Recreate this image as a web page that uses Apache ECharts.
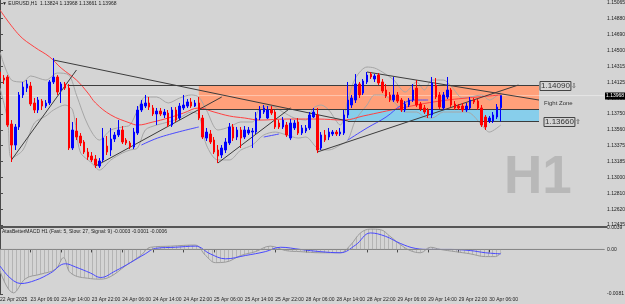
<!DOCTYPE html>
<html>
<head>
<meta charset="utf-8">
<script src="https://cdn.jsdelivr.net/npm/echarts@6/dist/echarts.min.js"></script>
<style>
html, body { margin: 0; padding: 0; background: #d4d4d4; }
#chart { width: 625px; height: 304px; }
</style>
</head>
<body>
<div id="chart"></div>
<script>
// Time axis labels (one every 8 hourly bars)
var xLabels = ['22 Apr 2025', '23 Apr 06:00', '23 Apr 14:00', '23 Apr 22:00', '24 Apr 06:00',
    '24 Apr 14:00', '24 Apr 22:00', '25 Apr 06:00', '25 Apr 14:00', '25 Apr 22:00',
    '28 Apr 06:00', '28 Apr 14:00', '28 Apr 22:00', '29 Apr 06:00', '29 Apr 14:00',
    '29 Apr 22:00', '30 Apr 06:00'];

// Price scale labels
var priceTicks = [1.15065, 1.14880, 1.14690, 1.14500, 1.14315, 1.14125, 1.13935, 1.13750,
    1.13560, 1.13375, 1.13185, 1.13000, 1.12810, 1.12620, 1.12435];
var macdTicks = [0.0039, 0, -0.0081];

// EURUSD H1 candles: [open, close, low, high]
var candles = [
    [1.14247, 1.14176, 1.14152, 1.14294], [1.14176, 1.14152, 1.14105, 1.14211],
    [1.14188, 1.13619, 1.13596, 1.14211], [1.13631, 1.13382, 1.13181, 1.13678],
    [1.13382, 1.13596, 1.13323, 1.13631], [1.13596, 1.13975, 1.13560, 1.14010],
    [1.13975, 1.14069, 1.13939, 1.14129], [1.14057, 1.14105, 1.14010, 1.14152],
    [1.14081, 1.13868, 1.13844, 1.14129], [1.13880, 1.13797, 1.13761, 1.13939],
    [1.13797, 1.13915, 1.13761, 1.13951], [1.13903, 1.13844, 1.13797, 1.13927],
    [1.13844, 1.13880, 1.13821, 1.13915], [1.13880, 1.14129, 1.13856, 1.14152],
    [1.14129, 1.14188, 1.14105, 1.14413], [1.14188, 1.14010, 1.13975, 1.14211],
    [1.14034, 1.14105, 1.13880, 1.14129], [1.14105, 1.14057, 1.14034, 1.14129],
    [1.14057, 1.13347, 1.13323, 1.14105], [1.13347, 1.13560, 1.13323, 1.13655],
    [1.13548, 1.13477, 1.13441, 1.13702], [1.13489, 1.13406, 1.13370, 1.13524],
    [1.13418, 1.13299, 1.13276, 1.13441], [1.13299, 1.13240, 1.13205, 1.13347],
    [1.13252, 1.13205, 1.13181, 1.13299], [1.13216, 1.13145, 1.13110, 1.13264],
    [1.13133, 1.13193, 1.13110, 1.13228], [1.13205, 1.13465, 1.13181, 1.13584],
    [1.13370, 1.13299, 1.13264, 1.13489], [1.13323, 1.13453, 1.13252, 1.13584],
    [1.13453, 1.13501, 1.13418, 1.13536], [1.13501, 1.13560, 1.13477, 1.13678],
    [1.13560, 1.13418, 1.13394, 1.13607], [1.13441, 1.13406, 1.13382, 1.13465],
    [1.13406, 1.13359, 1.13335, 1.13430], [1.13359, 1.13536, 1.13335, 1.13584],
    [1.13524, 1.13797, 1.13501, 1.13844], [1.13797, 1.13868, 1.13773, 1.13915],
    [1.13844, 1.13880, 1.13821, 1.13975], [1.13880, 1.13832, 1.13797, 1.13951],
    [1.13821, 1.13750, 1.13726, 1.13856], [1.13750, 1.13785, 1.13619, 1.13821],
    [1.13785, 1.13750, 1.13726, 1.13821], [1.13738, 1.13773, 1.13702, 1.13809],
    [1.13761, 1.13619, 1.13596, 1.13797], [1.13619, 1.13797, 1.13596, 1.13832],
    [1.13797, 1.13678, 1.13655, 1.13832], [1.13702, 1.13844, 1.13678, 1.13880],
    [1.13821, 1.13856, 1.13797, 1.13975], [1.13844, 1.13892, 1.13821, 1.13927],
    [1.13892, 1.13844, 1.13821, 1.13939], [1.13844, 1.13880, 1.13832, 1.13915],
    [1.13880, 1.13702, 1.13678, 1.13951], [1.13702, 1.13477, 1.13453, 1.13738],
    [1.13465, 1.13536, 1.13430, 1.13584], [1.13513, 1.13418, 1.13394, 1.13560],
    [1.13441, 1.13299, 1.13276, 1.13477], [1.13323, 1.13252, 1.13169, 1.13382],
    [1.13264, 1.13347, 1.13228, 1.13382], [1.13323, 1.13418, 1.13287, 1.13465],
    [1.13406, 1.13596, 1.13382, 1.13643], [1.13596, 1.13465, 1.13430, 1.13631],
    [1.13477, 1.13560, 1.13441, 1.13596], [1.13560, 1.13465, 1.13347, 1.13596],
    [1.13477, 1.13560, 1.13453, 1.13607], [1.13524, 1.13560, 1.13501, 1.13596],
    [1.13536, 1.13548, 1.13347, 1.13584], [1.13536, 1.13702, 1.13513, 1.13773],
    [1.13702, 1.13797, 1.13678, 1.13844], [1.13773, 1.13821, 1.13750, 1.13856],
    [1.13702, 1.13797, 1.13690, 1.13844], [1.13797, 1.13761, 1.13738, 1.13844],
    [1.13773, 1.13596, 1.13572, 1.13797], [1.13643, 1.13596, 1.13572, 1.13678],
    [1.13596, 1.13678, 1.13572, 1.13714], [1.13619, 1.13501, 1.13477, 1.13655],
    [1.13465, 1.13643, 1.13441, 1.13690], [1.13584, 1.13643, 1.13560, 1.13678],
    [1.13655, 1.13524, 1.13501, 1.13702], [1.13524, 1.13584, 1.13501, 1.13619],
    [1.13548, 1.13584, 1.13524, 1.13619], [1.13584, 1.13738, 1.13560, 1.13773],
    [1.13714, 1.13773, 1.13702, 1.13821], [1.13738, 1.13323, 1.13287, 1.13821],
    [1.13347, 1.13501, 1.13323, 1.13536], [1.13501, 1.13441, 1.13418, 1.13560],
    [1.13477, 1.13536, 1.13441, 1.13584], [1.13513, 1.13536, 1.13489, 1.13560],
    [1.13536, 1.13513, 1.13489, 1.13560], [1.13513, 1.13536, 1.13489, 1.13584],
    [1.13524, 1.13738, 1.13501, 1.13797], [1.13738, 1.13915, 1.13702, 1.14129],
    [1.13856, 1.13939, 1.13821, 1.13975], [1.13915, 1.14105, 1.13880, 1.14223],
    [1.14105, 1.13975, 1.13939, 1.14129], [1.13998, 1.14140, 1.13975, 1.14164],
    [1.14129, 1.14211, 1.14105, 1.14247], [1.14223, 1.14188, 1.14164, 1.14247],
    [1.14164, 1.14200, 1.14129, 1.14223], [1.14211, 1.14117, 1.14093, 1.14235],
    [1.14129, 1.14022, 1.13998, 1.14164], [1.14034, 1.13963, 1.13939, 1.14105],
    [1.13975, 1.13915, 1.13892, 1.14010], [1.13915, 1.13975, 1.13892, 1.14188],
    [1.13975, 1.13903, 1.13880, 1.14010], [1.13915, 1.13797, 1.13773, 1.13939],
    [1.13797, 1.13868, 1.13773, 1.13903], [1.13856, 1.13915, 1.13832, 1.13939],
    [1.13915, 1.14034, 1.13892, 1.14105], [1.14057, 1.13856, 1.13832, 1.14152],
    [1.13868, 1.13809, 1.13785, 1.13892], [1.13821, 1.13773, 1.13750, 1.13856],
    [1.13797, 1.13738, 1.13702, 1.13821], [1.13738, 1.14117, 1.13702, 1.14188],
    [1.14093, 1.13951, 1.13927, 1.14176], [1.13975, 1.13832, 1.13809, 1.14010],
    [1.13821, 1.13975, 1.13797, 1.14010], [1.13951, 1.14034, 1.13927, 1.14188],
    [1.14034, 1.13856, 1.13832, 1.14057], [1.13868, 1.13821, 1.13797, 1.13903],
    [1.13844, 1.13821, 1.13797, 1.13868], [1.13844, 1.13797, 1.13773, 1.13880],
    [1.13797, 1.13844, 1.13773, 1.13880], [1.13821, 1.13915, 1.13797, 1.13951],
    [1.13915, 1.13892, 1.13868, 1.13939], [1.13903, 1.13821, 1.13797, 1.13927],
    [1.13821, 1.13619, 1.13596, 1.13856], [1.13714, 1.13596, 1.13560, 1.13738],
    [1.13667, 1.13702, 1.13643, 1.13726], [1.13667, 1.13738, 1.13643, 1.13773],
    [1.13714, 1.13832, 1.13690, 1.13868], [1.13824, 1.13968, 1.13661, 1.13968]
];

// Indicator lines: [bar index, value]
var upperBand = [[0, 1.14484], [3, 1.14152], [6, 1.14129], [8, 1.14200], [12, 1.14152], [15, 1.14235],
    [18, 1.14211], [20, 1.13975], [23, 1.13619], [26, 1.13441], [29, 1.13560], [32, 1.13596],
    [34, 1.13619], [36, 1.13797], [38, 1.13951], [41, 1.13951], [44, 1.13880], [47, 1.13939],
    [50, 1.13975], [52, 1.13951], [54, 1.13797], [57, 1.13560], [60, 1.13596], [63, 1.13655],
    [66, 1.13655], [68, 1.13821], [71, 1.13844], [74, 1.13773], [77, 1.13702], [80, 1.13678],
    [82, 1.13821], [84, 1.13856], [86, 1.13797], [89, 1.13619], [91, 1.13915], [93, 1.14176],
    [96, 1.14306], [98, 1.14294], [100, 1.14247], [103, 1.14152], [106, 1.14010], [109, 1.14129],
    [111, 1.14034], [113, 1.14152], [116, 1.14152], [118, 1.14081], [121, 1.13939], [123, 1.13951],
    [126, 1.13975], [128, 1.13915], [131, 1.14010]];
var lowerBand = [[0, 1.14057], [2, 1.13678], [3, 1.13228], [6, 1.13323], [9, 1.13643], [12, 1.13726],
    [14, 1.13797], [17, 1.13856], [19, 1.13797], [21, 1.13299], [24, 1.13169], [26, 1.13086],
    [29, 1.13205], [32, 1.13287], [34, 1.13323], [36, 1.13347], [38, 1.13560], [41, 1.13619],
    [44, 1.13655], [47, 1.13702], [50, 1.13773], [52, 1.13738], [54, 1.13382], [57, 1.13205],
    [60, 1.13205], [63, 1.13323], [66, 1.13382], [69, 1.13501], [72, 1.13536], [75, 1.13501],
    [78, 1.13465], [80, 1.13477], [83, 1.13347], [86, 1.13323], [89, 1.13382], [91, 1.13441],
    [93, 1.13678], [96, 1.13856], [98, 1.13975], [100, 1.13975], [103, 1.13892], [106, 1.13773],
    [109, 1.13773], [111, 1.13714], [113, 1.13702], [116, 1.13773], [118, 1.13773], [121, 1.13773],
    [123, 1.13761], [126, 1.13619], [128, 1.13536], [131, 1.13619]];
var redMA = [[0, 1.14982], [5, 1.14685], [9, 1.14543], [13, 1.14425], [16, 1.14294], [20, 1.14152],
    [23, 1.13998], [25, 1.13880], [29, 1.13738], [34, 1.13643], [36, 1.13619], [40, 1.13655],
    [44, 1.13702], [48, 1.13761], [52, 1.13821], [56, 1.13773], [60, 1.13726], [64, 1.13702],
    [68, 1.13678], [75, 1.13690], [83, 1.13690], [90, 1.13678], [95, 1.13726], [105, 1.13821],
    [115, 1.13903], [125, 1.13951], [131, 1.13975]];
var blueMA = [
    [[37, 1.13382], [42, 1.13477], [52, 1.13596]],
    [[69, 1.13477], [73, 1.13513]],
    [[91, 1.13441], [96, 1.13584], [101, 1.13714], [105, 1.13856], [108, 1.13915], [112, 1.13915]]
];

// Hand drawn objects: trend lines and zones
var trendLines = [
    [[14, 1.14389], [91, 1.13667]],
    [[3, 1.13205], [20, 1.14271]],
    [[96, 1.14247], [141, 1.13915]],
    [[25, 1.13133], [58, 1.13951]],
    [[57, 1.13169], [76, 1.13821]],
    [[83, 1.13299], [135.6, 1.14093]],
    [[17.7, 1.14090], [141, 1.14090]],
    [[52, 1.13809], [141, 1.13809]],
    [[91, 1.13660], [141, 1.13660]]
];
var fightZone = [[52, 1.14090], [141, 1.13809]];
var supportZone = [[91, 1.13809], [141, 1.13660]];
var bidPrice = 1.13968;

// MACD pane
var macdMain = [[0, -0.0039], [3.5, -0.0079], [6.7, -0.0053], [10.6, -0.0045], [14.5, -0.0036],
    [16.6, -0.0015], [18.5, -0.0043], [23.7, -0.0053], [26.3, -0.0054], [29, -0.0049],
    [32.8, -0.0030], [36.8, -0.0011], [39.4, 0.0004], [44.6, 0.0006], [51, 0.0008],
    [53.8, -0.0011], [56.4, -0.0024], [59, -0.0023], [63, -0.0011], [66.8, -0.0004],
    [70.7, 0.0006], [74.7, -0.0002], [78.6, -0.0004], [83.8, -0.0006], [89, -0.0006],
    [91.7, 0.0008], [94.3, 0.0030], [96.9, 0.0037], [99.5, 0.0036], [102, 0.0024],
    [104.7, 0.0009], [107.3, -0.0002], [110, -0.0006], [112.6, 0.0004], [115.2, 0],
    [119.1, -0.0004], [123, -0.0008], [127, -0.0013], [129.6, -0.0013], [131, -0.0006]];
var macdSignal = [[0, -0.0030], [5.4, -0.0062], [9.3, -0.0056], [13.2, -0.0043], [17.1, -0.0026],
    [19.8, -0.0032], [23.7, -0.0043], [26.3, -0.0051], [30.2, -0.0039], [34.1, -0.0024],
    [38, -0.0008], [40.7, 0.0002], [45.9, 0.0004], [51.1, 0.0006], [55, -0.0008],
    [59, -0.0017], [64.2, -0.0011], [69.4, -0.0004], [73.4, 0.0004], [78.6, 0],
    [83.8, -0.0004], [89, -0.0006], [93, 0.0008], [96.9, 0.0030], [100.8, 0.0024],
    [104.7, 0.0011], [108.6, 0.0002], [112.6, 0], [117.8, 0], [123, -0.0002],
    [127, -0.0006], [131, -0.0008]];

var slotCount = 159;
var categories = [];
for (var i = 0; i < slotCount; i++) {
    categories.push(i % 8 === 0 && xLabels[i / 8] ? xLabels[i / 8] : '');
}

// vertical hatch for the MACD histogram
var hatch = document.createElement('canvas');
hatch.width = 4;
hatch.height = 4;
var hctx = hatch.getContext('2d');
hctx.fillStyle = '#b4b4b4';
hctx.fillRect(0, 0, 1, 4);

var axisColor = '#4a4a4a';
var smallFont = 'Liberation Sans, Arial, sans-serif';
var isLabel = function (index, value) { return value !== ''; };

var chart = echarts.init(document.getElementById('chart'));

var series = [
    {
        name: 'Bid',
        type: 'line',
        xAxisIndex: 1,
        yAxisIndex: 0,
        symbol: 'none',
        z: 1,
        silent: true,
        lineStyle: { color: 'rgba(255,255,255,0.4)', width: 1 },
        data: [[0, bidPrice], [slotCount - 1, bidPrice]],
        markArea: {
            silent: true,
            data: [
                [{ coord: fightZone[0], itemStyle: { color: '#ffa07a' } }, { coord: fightZone[1] }],
                [{ coord: supportZone[0], itemStyle: { color: '#87ceeb' } }, { coord: supportZone[1] }]
            ]
        }
    },
    {
        name: 'Upper',
        type: 'line',
        xAxisIndex: 1,
        yAxisIndex: 0,
        symbol: 'none',
        smooth: 0.3,
        z: 2,
        lineStyle: { color: '#a6a6a6', width: 1 },
        data: upperBand
    },
    {
        name: 'Lower',
        type: 'line',
        xAxisIndex: 1,
        yAxisIndex: 0,
        symbol: 'none',
        smooth: 0.3,
        z: 2,
        lineStyle: { color: '#a6a6a6', width: 1 },
        data: lowerBand
    },
    {
        name: 'MA red',
        type: 'line',
        xAxisIndex: 1,
        yAxisIndex: 0,
        symbol: 'none',
        smooth: 0.4,
        z: 2,
        lineStyle: { color: '#ff4040', width: 1 },
        data: redMA
    },
    {
        name: 'Trend lines',
        type: 'lines',
        coordinateSystem: 'cartesian2d',
        xAxisIndex: 1,
        yAxisIndex: 0,
        z: 3,
        silent: true,
        lineStyle: { color: '#3c3c3c', width: 1, opacity: 1 },
        data: trendLines.map(function (l) { return { coords: l }; })
    },
    {
        name: 'EURUSD',
        type: 'candlestick',
        xAxisIndex: 0,
        yAxisIndex: 0,
        barWidth: 2,
        z: 4,
        itemStyle: {
            color: '#0000ff',
            color0: '#ff0000',
            borderColor: '#0000ff',
            borderColor0: '#ff0000',
            borderWidth: 1
        },
        data: candles
    },
    {
        name: 'MACD',
        type: 'line',
        xAxisIndex: 3,
        yAxisIndex: 1,
        symbol: 'none',
        smooth: 0.4,
        lineStyle: { color: '#9a9a9a', width: 1 },
        areaStyle: { color: { image: hatch, repeat: 'repeat' }, opacity: 1 },
        data: macdMain
    },
    {
        name: 'Signal',
        type: 'line',
        xAxisIndex: 3,
        yAxisIndex: 1,
        symbol: 'none',
        smooth: 0.4,
        lineStyle: { color: '#4848ff', width: 1 },
        data: macdSignal
    },
    {
        name: 'Zero',
        type: 'line',
        xAxisIndex: 3,
        yAxisIndex: 1,
        symbol: 'none',
        lineStyle: { color: '#8c8c8c', width: 1 },
        data: [[0, 0], [slotCount - 1, 0]]
    }
];

blueMA.forEach(function (seg) {
    series.push({
        name: 'MA blue',
        type: 'line',
        xAxisIndex: 1,
        yAxisIndex: 0,
        symbol: 'none',
        smooth: 0.4,
        z: 2,
        lineStyle: { color: '#4a4aff', width: 1 },
        data: seg
    });
});

chart.setOption({
    backgroundColor: '#d4d4d4',
    animation: false,
    textStyle: { fontFamily: smallFont },

    grid: [
        { left: 0, right: 21, top: 0, height: 226, outerBoundsMode: 'none' },
        { left: 0, right: 21, top: 228, height: 66, outerBoundsMode: 'none' }
    ],

    xAxis: [
        {
            type: 'category', gridIndex: 0, data: categories, boundaryGap: false,
            axisLine: { show: false }, axisTick: { show: false }, axisLabel: { show: false },
            splitLine: { show: false }
        },
        { type: 'value', gridIndex: 0, min: 0, max: slotCount - 1, show: false },
        {
            type: 'category', gridIndex: 1, data: categories, boundaryGap: false,
            axisLine: { show: true, lineStyle: { color: axisColor } },
            axisTick: { show: true, interval: isLabel, length: 3, lineStyle: { color: axisColor } },
            axisLabel: {
                interval: isLabel, align: 'left', fontSize: 5, color: '#222',
                margin: 3, fontFamily: smallFont
            },
            splitLine: { show: false }
        },
        { type: 'value', gridIndex: 1, min: 0, max: slotCount - 1, show: false }
    ],

    yAxis: [
        {
            type: 'value', gridIndex: 0, position: 'right',
            min: 1.12423, max: 1.15100, scale: true,
            axisLine: { show: true, lineStyle: { color: axisColor } },
            axisTick: { show: true, customValues: priceTicks, length: 3, lineStyle: { color: axisColor } },
            axisLabel: {
                customValues: priceTicks, fontSize: 5, color: '#222', margin: 3,
                formatter: function (v) { return v.toFixed(5); }
            },
            splitLine: { show: false }
        },
        {
            type: 'value', gridIndex: 1, position: 'right',
            min: -0.0081, max: 0.0039,
            axisLine: { show: true, lineStyle: { color: axisColor } },
            axisTick: { show: true, customValues: macdTicks, length: 3, lineStyle: { color: axisColor } },
            axisLabel: {
                customValues: macdTicks, fontSize: 5, color: '#222', margin: 3,
                formatter: function (v) { return v === 0 ? '0.00' : v.toFixed(4); }
            },
            splitLine: { show: false }
        }
    ],

    graphic: [
        { type: 'rect', z: 5, shape: { x: 0, y: 226, width: 607, height: 2 }, style: { fill: '#555' } },
        {
            type: 'text', x: 2, y: 1, z: 10,
            style: { text: '\u25BC EURUSD,H1  1.13824 1.13968 1.13661 1.13968', fontSize: 5, fill: '#222', fontFamily: smallFont }
        },
        {
            type: 'text', x: 2, y: 229, z: 10,
            style: { text: 'AtasBetterMACD H1 (Fast: 5, Slow: 27, Signal: 9) -0.0003 -0.0001 -0.0006', fontSize: 5, fill: '#222', fontFamily: smallFont }
        },
        {
            type: 'text', x: 504, y: 178, z: 0,
            style: { text: 'H1', fontSize: 53, fontWeight: 'bold', fill: '#b8b8b8', fontFamily: 'Liberation Sans, Arial, sans-serif', verticalAlign: 'middle' }
        },
        {
            type: 'text', x: 540, y: 86, z: 10,
            style: {
                text: '1.14090', fontSize: 8, fill: '#333', fontFamily: smallFont, verticalAlign: 'middle',
                borderColor: '#444', borderWidth: 1, padding: [1, 1, 0, 1]
            }
        },
        { type: 'text', x: 571, y: 86, z: 10, style: { text: '\u21E9', fontSize: 7, fill: '#444', verticalAlign: 'middle' } },
        {
            type: 'text', x: 544, y: 103.5, z: 10,
            style: { text: 'Fight Zone', fontSize: 6, fill: '#333', fontFamily: smallFont, verticalAlign: 'middle' }
        },
        {
            type: 'text', x: 544, y: 122, z: 10,
            style: {
                text: '1.13660', fontSize: 8, fill: '#333', fontFamily: smallFont, verticalAlign: 'middle',
                borderColor: '#444', borderWidth: 1, padding: [1, 1, 0, 1]
            }
        },
        { type: 'text', x: 575, y: 122, z: 10, style: { text: '\u21E7', fontSize: 7, fill: '#444', verticalAlign: 'middle' } },
        {
            type: 'text', x: 605, y: 96, z: 10,
            style: {
                text: '1.13968', fontSize: 5, fill: '#fff', fontFamily: smallFont, verticalAlign: 'middle',
                backgroundColor: '#000', padding: [1, 2, 1, 1]
            }
        }
    ],

    series: series
});
</script>
</body>
</html>
